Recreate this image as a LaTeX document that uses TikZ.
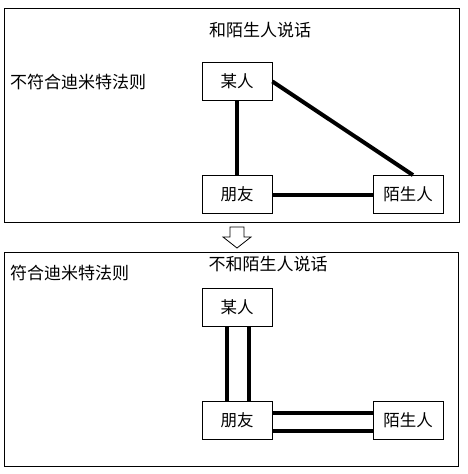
\documentclass[tikz,border=0pt]{standalone}
\usepackage{fontspec}
\newfontfamily\cjk{Noto Sans CJK SC}
\usetikzlibrary{positioning}

\begin{document}
\begin{tikzpicture}[
x=1pt, y=-1pt,
every node/.style={font=\cjk\fontsize{17}{17}\selectfont},
person/.style={rectangle, draw=black, line width=0.8pt, minimum width=70pt, minimum height=38pt, inner sep=0pt, font=\cjk\fontsize{16.5}{17}\selectfont},
frame/.style={draw=black, line width=0.9pt},
link/.style={line width=4pt},
]
\useasboundingbox (0,0) rectangle (467,474);

% upper part
\draw[frame] (4,8) rectangle (459,222);
\node (title1) at (260,30) {和陌生人说话};
\node[anchor=west, inner sep=0pt] (law1) at (10,82) {不符合迪米特法则};
\node[person] (mr1) at (237,81.5) {某人};
\node[person] (fr1) at (237,194.5) {朋友};
\node[person] (st1) at (408,194.5) {陌生人};
\draw[link] (mr1) -- (fr1);
\draw[link] (mr1.east) -- ([xshift=5pt]st1.north);
\draw[link] (fr1) -- (st1);

% arrow
\draw[line width=0.8pt, fill=white] (230,227) -- (244,227) -- (244,237) -- (251,237)
  -- (237,248) -- (223,237) -- (230,237) -- cycle;

% lower part
\draw[frame] (4,252) rectangle (458,466);
\node (title2) at (268,264) {不和陌生人说话};
\node[anchor=west, inner sep=0pt] (law2) at (10,273) {符合迪米特法则};
\node[person] (mr2) at (237,307.5) {某人};
\node[person] (fr2) at (237,420.5) {朋友};
\node[person] (st2) at (408,420.5) {陌生人};
\draw[link] ([xshift=-10pt]mr2.south) -- ([xshift=-10pt]fr2.north);
\draw[link] ([xshift=12pt]mr2.south) -- ([xshift=12pt]fr2.north);
\draw[link] ([yshift=8pt]fr2.east) -- ([yshift=8pt]st2.west);
\draw[link] ([yshift=-10pt]fr2.east) -- ([yshift=-10pt]st2.west);
\end{tikzpicture}
\end{document}
